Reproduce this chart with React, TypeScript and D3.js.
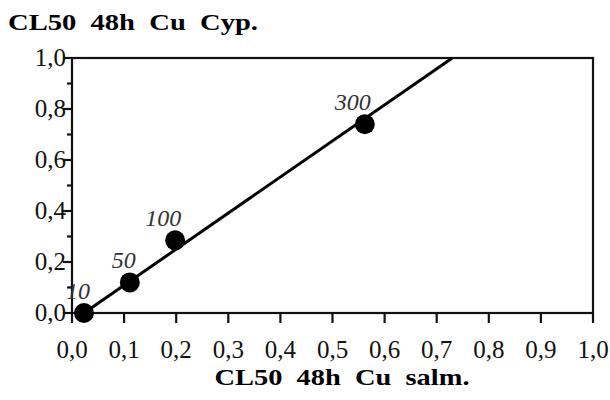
import React from "react";
import * as d3 from "d3";

const xTicks = [0, 0.1, 0.2, 0.3, 0.4, 0.5, 0.6, 0.7, 0.8, 0.9, 1.0];
const yMajorTicks = [0, 0.2, 0.4, 0.6, 0.8, 1.0];
const yMinorTicks = [0.1, 0.3, 0.5, 0.7, 0.9];

const pointLabels = ["10", "50", "100", "300"];
const salmValues = [0.023, 0.111, 0.198, 0.562];
const cypValues = [0.0, 0.12, 0.285, 0.74];

const fitX = [0.023, 0.73];
const fitY = [0.0, 1.0];

const titleText = "CL50  48h  Cu  Cyp.";
const xTitleText = "CL50  48h  Cu  salm.";

const fmt = (v: number) => v.toFixed(1).replace(".", ",");

export default function App() {
  const W = 610, H = 400;
  const left = 72, right = 593, top = 58, bottom = 313;
  const x = d3.scaleLinear().domain([0, 1]).range([left, right]);
  const y = d3.scaleLinear().domain([0, 1]).range([bottom, top]);
  const line = d3
    .line<number>()
    .x((_, i) => x(fitX[i]))
    .y((d) => y(d));

  const serif = "'Liberation Serif', 'Times New Roman', serif";

  return (
    <svg
      width={W}
      height={H}
      style={{ position: "absolute", left: 0, top: 0, background: "#fff" }}
      fontFamily={serif}
    >
      <rect x={0} y={0} width={W} height={H} fill="#fff" />
      <text x={8} y={30} fontSize={23} fontWeight="bold" fill="#000" style={{ whiteSpace: "pre" }} textLength={250} lengthAdjust="spacingAndGlyphs">
        {titleText}
      </text>

      {/* frame */}
      <rect x={left} y={top} width={right - left} height={bottom - top} fill="none" stroke="#111" strokeWidth={2.2} />

      {/* x ticks */}
      {xTicks.map((t) => (
        <g key={"xt" + t}>
          <line x1={x(t)} x2={x(t)} y1={bottom} y2={bottom + 10} stroke="#111" strokeWidth={2.2} />
          <text x={x(t)} y={358} fontSize={25} textAnchor="middle" fill="#111">
            {fmt(t)}
          </text>
        </g>
      ))}

      {/* y ticks */}
      {yMajorTicks.map((t) => (
        <g key={"yt" + t}>
          <line x1={left - 9} x2={left} y1={y(t)} y2={y(t)} stroke="#111" strokeWidth={2.2} />
          <text x={66} y={y(t) + 8} fontSize={25} textAnchor="end" fill="#111">
            {fmt(t)}
          </text>
        </g>
      ))}
      {yMinorTicks.map((t) => (
        <line key={"ym" + t} x1={left - 5} x2={left} y1={y(t)} y2={y(t)} stroke="#111" strokeWidth={2.2} />
      ))}

      {/* fit line */}
      <path d={line(fitY) || ""} fill="none" stroke="#000" strokeWidth={3} />

      {/* points */}
      {salmValues.map((v, i) => (
        <g key={"p" + i}>
          <circle cx={x(v)} cy={y(cypValues[i])} r={10} fill="#000" />
          <text
            x={x(v) + 6}
            y={y(cypValues[i]) - 14}
            fontSize={24}
            fontStyle="italic"
            textAnchor="end"
            fill="#333"
          >
            {pointLabels[i]}
          </text>
        </g>
      ))}

      <text x={342} y={385} fontSize={23} fontWeight="bold" fill="#000" textAnchor="middle" style={{ whiteSpace: "pre" }} textLength={255} lengthAdjust="spacingAndGlyphs">
        {xTitleText}
      </text>
    </svg>
  );
}
